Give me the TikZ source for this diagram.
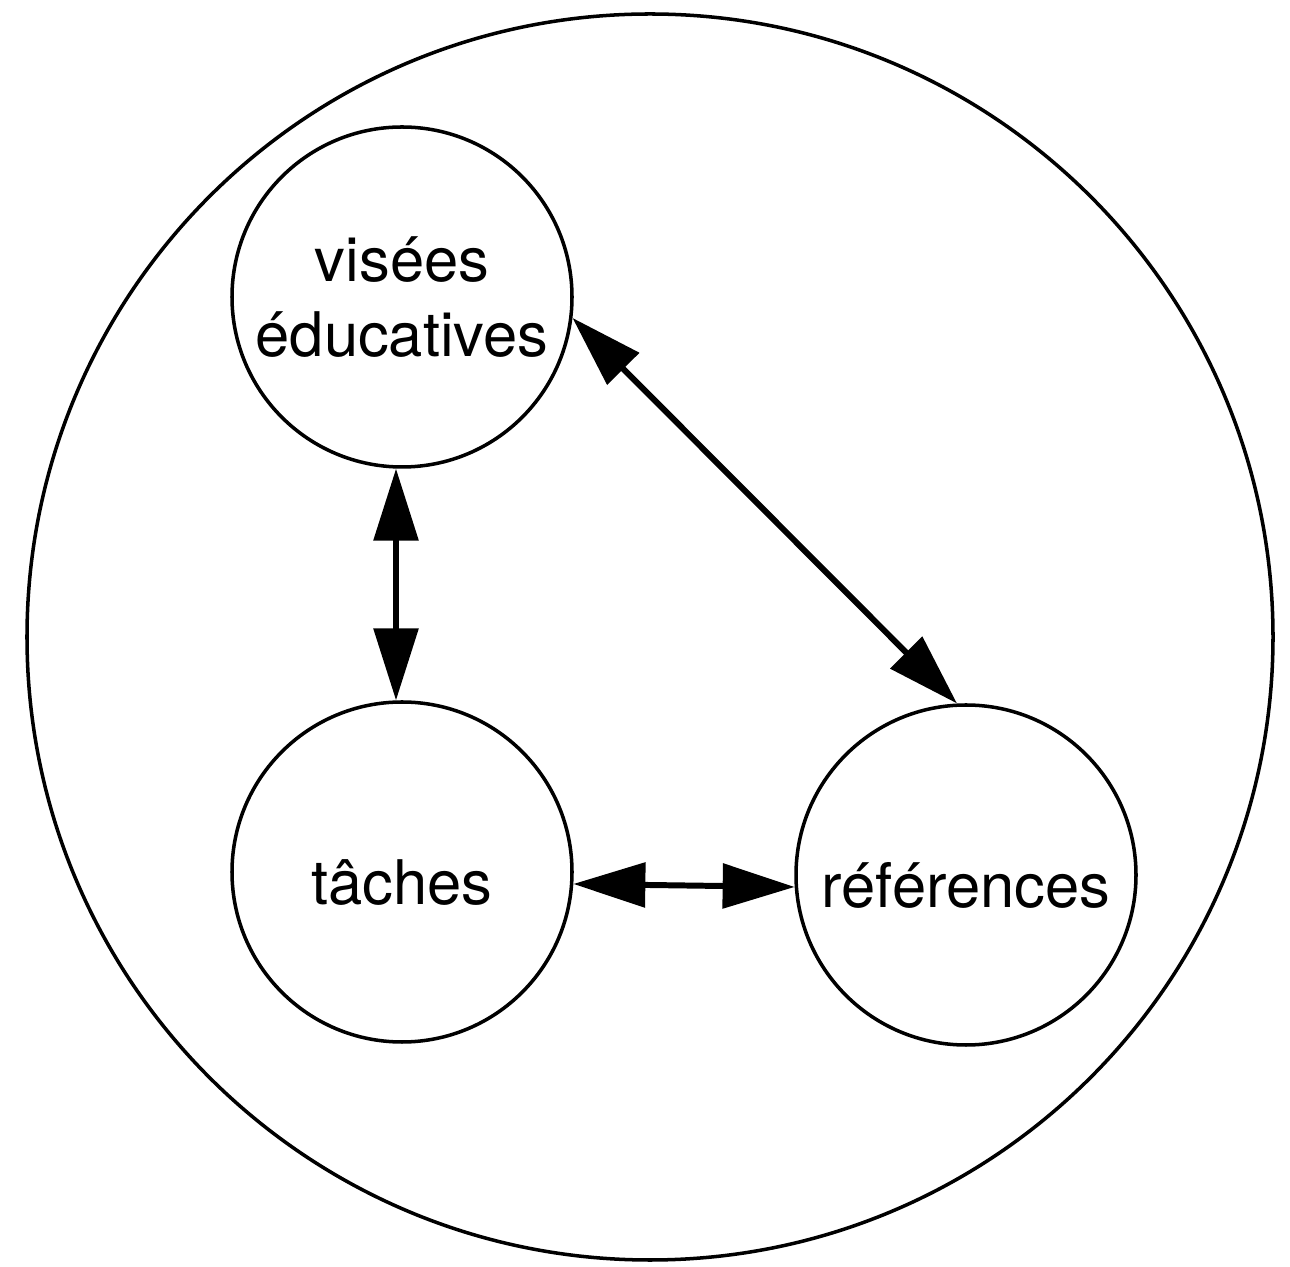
\documentclass[tikz,border=0pt]{standalone}
\usepackage{fontspec}
\setmainfont{TeX Gyre Heros}
\usetikzlibrary{arrows.meta}
\begin{document}
\begin{tikzpicture}
    [
    pole/.style={circle,draw,line width=1pt,inner sep=0pt,minimum size=3.4cm,
      font=\fontsize{17.5}{21.5}\selectfont},
    link/.style={{Triangle[length=7.2mm,width=4.4mm]}-{Triangle[length=7.2mm,width=4.4mm]},
      line width=1.7pt},
    ]
    \useasboundingbox (0,0) rectangle (12.9,12.67);
    \node (all) at (6.5,6.3) [circle,draw,line width=1pt,inner sep=0pt,minimum size=12.46cm] {};
    \node (vis) at (4.02,9.7) [pole,align=center] {visées\\éducatives};
    \node (tac) at (4.02,3.95) [pole,text height=19pt] {tâches};
    \node (ref) at (9.66,3.92) [pole,text height=19pt] {références};
    \draw [link] (vis.-92) to (tac.92);
    \draw [link] (vis.-7.6) to (ref.93);
    \draw [link] (tac.-4) to (ref.184);
  \end{tikzpicture}
\end{document}
